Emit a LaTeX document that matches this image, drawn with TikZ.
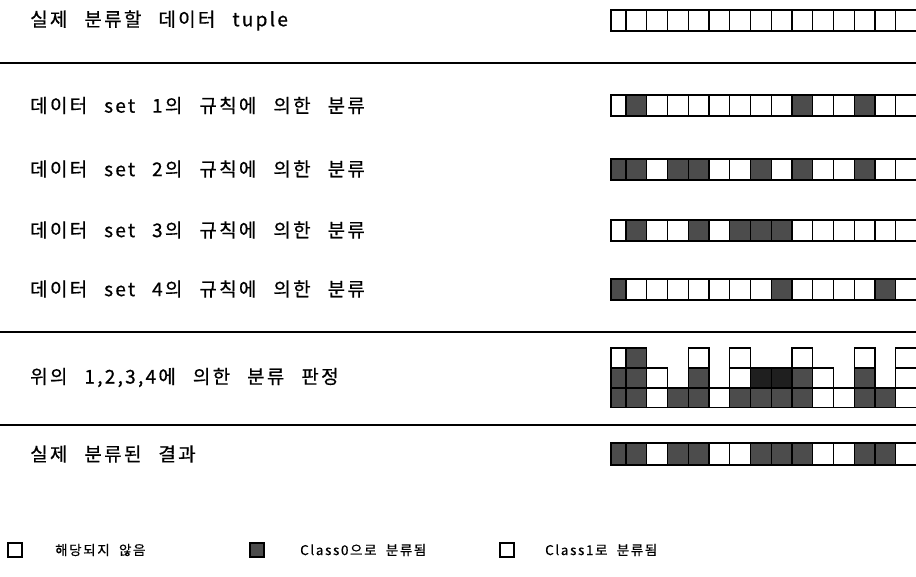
\documentclass[tikz,border=0pt]{standalone}
\usepackage{fontspec}
\newfontfamily\kr[LetterSpace=12,WordSpace=2.6,FakeBold=0.6]{Noto Sans CJK KR}
\newfontfamily\krl[LetterSpace=12,WordSpace=2,FakeBold=0.5]{Noto Sans CJK KR}
\tikzset{
  cellw/.style={draw=black, line width=1.3pt, fill=white},
  celld/.style={draw=black, line width=1.3pt, fill=black!70},
  cellk/.style={draw=black, line width=1.3pt, fill=black!88},
  celln/.style={draw=none, fill=none},
  lbl/.style={anchor=west, inner sep=0pt, font=\kr\fontsize{19}{19}\selectfont},
  leg/.style={anchor=west, inner sep=0pt, font=\krl\fontsize{13.5}{13.5}\selectfont},
  sepline/.style={line width=1.3pt},
}
\newcommand\mkrow[3]{%
  \foreach \f [count=\i from 0] in {#3} {
    \pgfmathsetmacro\xa{\i==0 ? 611 : 605.25+20.75*\i}
    \pgfmathsetmacro\xb{605.25+20.75*(\i+1)}
    \draw[cell\f] (\xa,#1) rectangle (\xb,{#1+#2});
  }}
\begin{document}
\begin{tikzpicture}[x=1pt,y=-1pt]
\useasboundingbox (0,0) rectangle (916,576);
\fill[white] (0,0) rectangle (916,576);

% labels
\node[lbl] (l0) at (30,20.5) {실제 분류할 데이터 tuple};
\node[lbl] (l1) at (30,105.5) {데이터 set 1의 규칙에 의한 분류};
\node[lbl] (l2) at (30,169) {데이터 set 2의 규칙에 의한 분류};
\node[lbl] (l3) at (30,230) {데이터 set 3의 규칙에 의한 분류};
\node[lbl] (l4) at (30,289) {데이터 set 4의 규칙에 의한 분류};
\node[lbl] (l5) at (30,377.5) {위의 1,2,3,4에 의한 분류 판정};
\node[lbl] (l6) at (30,454) {실제 분류된 결과};

% separators
\draw[sepline] (0,63) -- (916,63);
\draw[sepline] (0,332) -- (916,332);
\draw[sepline] (0,425) -- (916,425);

% rows
\mkrow{10}{21}{w,w,w,w,w,w,w,w,w,w,w,w,w,w,w}
\mkrow{95}{21}{w,d,w,w,w,w,w,w,w,d,w,w,d,w,w}
\mkrow{159}{21}{d,d,w,d,d,w,w,d,w,d,w,w,d,w,w}
\mkrow{220}{21}{w,d,w,w,d,w,d,d,d,w,w,w,w,w,w}
\mkrow{279}{21}{d,w,w,w,w,w,w,w,d,w,w,w,w,d,w}

% judgement
\mkrow{348}{20}{w,d,n,n,w,n,w,n,n,w,n,n,w,n,w}
\mkrow{368}{20}{d,d,w,n,d,n,w,k,k,d,w,n,d,n,w}
\mkrow{388}{19.5}{d,d,w,d,d,w,d,d,d,d,w,w,d,d,w}

% result
\mkrow{443}{22}{d,d,w,d,d,w,w,d,d,d,w,w,d,d,w}

% legend
\draw[cellw] (8,543) rectangle (22,557);
\node[leg] (t1) at (55,550) {해당되지 않음};
\draw[celld] (250,543) rectangle (264,557);
\node[leg] (t2) at (300,550) {Class0으로 분류됨};
\draw[cellw] (500,543) rectangle (514,557);
\node[leg] (t3) at (545,550) {Class1로 분류됨};
\end{tikzpicture}
\end{document}
